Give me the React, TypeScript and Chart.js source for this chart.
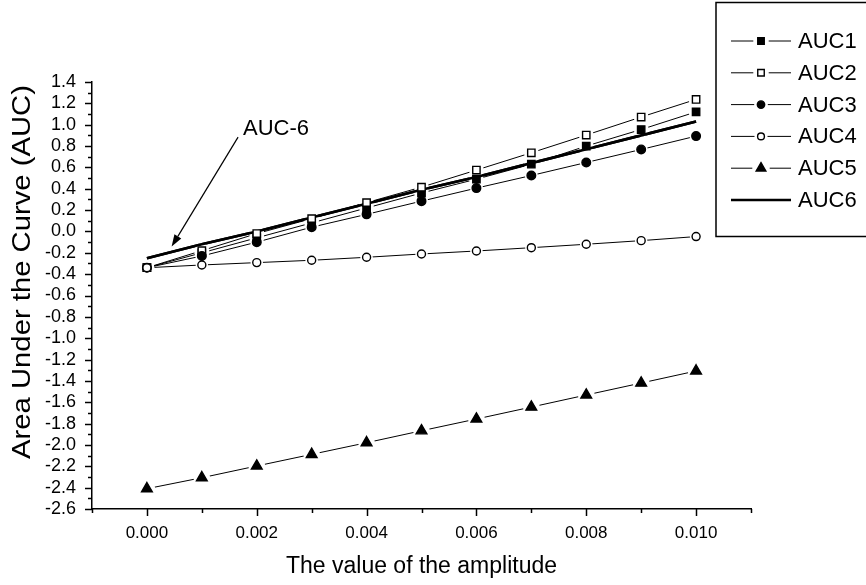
import React, { useEffect, useRef } from 'react';
import { Chart, registerables } from 'chart.js';
import { drawPoint } from 'chart.js/helpers';

Chart.register(...registerables);

const AMPLITUDE = [0.0, 0.001, 0.002, 0.003, 0.004, 0.005, 0.006, 0.007, 0.008, 0.009, 0.01];
const AUC1 = [-0.34, -0.2, -0.06, 0.08, 0.22, 0.36, 0.49, 0.63, 0.8, 0.955, 1.12];
const AUC2 = [-0.34, -0.18, -0.02, 0.12, 0.27, 0.415, 0.575, 0.737, 0.903, 1.072, 1.237];
const AUC3 = [-0.34, -0.23, -0.1, 0.04, 0.16, 0.284, 0.406, 0.524, 0.646, 0.768, 0.893];
const AUC4 = [-0.34, -0.314, -0.292, -0.27, -0.242, -0.211, -0.183, -0.152, -0.12, -0.086, -0.048];
const AUC5 = [-2.41, -2.307, -2.197, -2.088, -1.979, -1.867, -1.757, -1.645, -1.532, -1.42, -1.307];
const AUC6 = [-0.25, -0.12, 0.0, 0.13, 0.26, 0.39, 0.51, 0.64, 0.77, 0.9, 1.03];

const SERIES_NAMES = ['AUC1', 'AUC2', 'AUC3', 'AUC4', 'AUC5', 'AUC6'];
const SERIES_VALUES = [AUC1, AUC2, AUC3, AUC4, AUC5, AUC6];

const X_MIN = -0.001;
const X_MAX = 0.011;
const X_STEP = 0.001;
const Y_MIN = -2.6;
const Y_MAX = 1.4;
const Y_STEP = 0.1;

const X_TITLE = 'The value of the amplitude';
const Y_TITLE = 'Area Under the Curve (AUC)';

const ANNOTATION_TEXT = 'AUC-6';
const ANNOTATION_TEXT_AT = { x: 0.00175, y: 0.96 };
const ARROW_FROM = { x: 0.00166, y: 0.884 };
const ARROW_TO = { x: 0.00045, y: -0.142 };

const FONT = '"Liberation Sans", Arial, sans-serif';

type Style = { pointStyle: any; radius: number; fill: string; width: number; marker: boolean };
const STYLES: Style[] = [
  { pointStyle: 'rect', radius: 5.2, fill: '#000', width: 1, marker: true },
  { pointStyle: 'rect', radius: 5.2, fill: '#fff', width: 1, marker: true },
  { pointStyle: 'circle', radius: 4.3, fill: '#000', width: 1, marker: true },
  { pointStyle: 'circle', radius: 4.0, fill: '#fff', width: 1, marker: true },
  { pointStyle: 'triangle', radius: 6.2, fill: '#000', width: 1, marker: true },
  { pointStyle: false, radius: 0, fill: '#000', width: 2.6, marker: false },
];

const axisTicksPlugin = {
  id: 'axisTicks',
  afterDraw(chart: any) {
    const ctx = chart.ctx;
    const xs = chart.scales.x;
    const ys = chart.scales.y;
    const area = chart.chartArea;
    ctx.save();
    ctx.strokeStyle = '#000';
    ctx.lineWidth = 1.5;
    ys.ticks.forEach((t: any) => {
      const k = Math.round(t.value * 10);
      const len = k % 2 === 0 ? 7 : 4;
      const py = Math.round(ys.getPixelForValue(t.value)) + 0.5;
      ctx.beginPath();
      ctx.moveTo(area.left, py);
      ctx.lineTo(area.left - len, py);
      ctx.stroke();
    });
    xs.ticks.forEach((t: any) => {
      const k = Math.round(t.value * 1000);
      const len = k % 2 === 0 ? 7 : 4;
      const px = Math.round(xs.getPixelForValue(t.value)) + 0.5;
      ctx.beginPath();
      ctx.moveTo(px, area.bottom);
      ctx.lineTo(px, area.bottom + len);
      ctx.stroke();
    });
    // y axis title (stretched along its length like the original)
    ctx.save();
    ctx.translate(23, 272);
    ctx.rotate(-Math.PI / 2);
    ctx.scale(1.17, 1);
    ctx.font = `25px ${FONT}`;
    ctx.fillStyle = '#000';
    ctx.textAlign = 'center';
    ctx.textBaseline = 'middle';
    ctx.fillText(Y_TITLE, 0, 0);
    ctx.restore();
    ctx.restore();
  },
};

const haloPlugin = {
  id: 'halo',
  afterDatasetsDraw(chart: any) {
    const ctx = chart.ctx;
    const area = chart.chartArea;
    ctx.save();
    ctx.beginPath();
    ctx.rect(area.left, area.top - 10, area.right - area.left + 10, area.bottom - area.top + 10);
    ctx.clip();
    chart.data.datasets.forEach((ds: any, i: number) => {
      if (!STYLES[i].marker) return;
      const meta = chart.getDatasetMeta(i);
      meta.data.forEach((pt: any) => {
        ctx.beginPath();
        ctx.arc(pt.x, pt.y, STYLES[i].radius + 2.2, 0, Math.PI * 2);
        ctx.fillStyle = '#fff';
        ctx.fill();
      });
    });
    chart.data.datasets.forEach((ds: any, i: number) => {
      if (STYLES[i].marker) return;
      const meta = chart.getDatasetMeta(i);
      meta.dataset.draw(ctx, area);
    });
    chart.data.datasets.forEach((ds: any, i: number) => {
      if (!STYLES[i].marker) return;
      const meta = chart.getDatasetMeta(i);
      meta.data.forEach((pt: any) => pt.draw(ctx, area));
    });
    ctx.restore();
  },
};

const legendAndAnnotationPlugin = {
  id: 'legendAnnot',
  afterDraw(chart: any) {
    const ctx = chart.ctx;
    const xs = chart.scales.x;
    const ys = chart.scales.y;
    ctx.save();
    ctx.strokeStyle = '#000';
    ctx.lineWidth = 1.5;
    ctx.strokeRect(716, 2.5, 200, 234);
    const x0 = 731;
    const x1 = 791;
    const xm = (x0 + x1) / 2;
    chart.data.datasets.forEach((ds: any, i: number) => {
      const y = 41 + i * 31.8;
      const st = STYLES[i];
      ctx.strokeStyle = '#000';
      ctx.lineWidth = st.width;
      ctx.beginPath();
      if (st.marker) {
        const g = st.radius + 2.5;
        ctx.moveTo(x0, y);
        ctx.lineTo(xm - g, y);
        ctx.moveTo(xm + g, y);
        ctx.lineTo(x1, y);
      } else {
        ctx.moveTo(x0, y);
        ctx.lineTo(x1, y);
      }
      ctx.stroke();
      if (st.marker) {
        ctx.fillStyle = st.fill;
        ctx.strokeStyle = '#000';
        ctx.lineWidth = 1.4;
        drawPoint(ctx, { pointStyle: st.pointStyle, rotation: 0, borderWidth: 1.4, radius: st.radius - 0.6 } as any, xm, y);
      }
      ctx.fillStyle = '#000';
      ctx.font = `22px ${FONT}`;
      ctx.textAlign = 'left';
      ctx.textBaseline = 'middle';
      ctx.fillText(ds.label, 798, y + 1);
    });
    ctx.font = `22px ${FONT}`;
    ctx.fillStyle = '#000';
    ctx.textAlign = 'left';
    ctx.textBaseline = 'middle';
    ctx.fillText(ANNOTATION_TEXT, xs.getPixelForValue(ANNOTATION_TEXT_AT.x), ys.getPixelForValue(ANNOTATION_TEXT_AT.y));
    const ax0 = xs.getPixelForValue(ARROW_FROM.x);
    const ay0 = ys.getPixelForValue(ARROW_FROM.y);
    const ax1 = xs.getPixelForValue(ARROW_TO.x);
    const ay1 = ys.getPixelForValue(ARROW_TO.y);
    const ang = Math.atan2(ay1 - ay0, ax1 - ax0);
    const hl = 12;
    const hw = 4;
    const bx = ax1 - hl * Math.cos(ang);
    const by = ay1 - hl * Math.sin(ang);
    ctx.strokeStyle = '#000';
    ctx.lineWidth = 1.2;
    ctx.beginPath();
    ctx.moveTo(ax0, ay0);
    ctx.lineTo(bx, by);
    ctx.stroke();
    ctx.beginPath();
    ctx.moveTo(ax1, ay1);
    ctx.lineTo(bx + hw * Math.sin(ang), by - hw * Math.cos(ang));
    ctx.lineTo(bx - hw * Math.sin(ang), by + hw * Math.cos(ang));
    ctx.closePath();
    ctx.fill();
    ctx.restore();
  },
};

export default function App() {
  const ref = useRef<HTMLCanvasElement | null>(null);
  useEffect(() => {
    if (!ref.current) return;
    const datasets = SERIES_VALUES.map((vals, i) => {
      const st = STYLES[i];
      return {
        label: SERIES_NAMES[i],
        data: AMPLITUDE.map((x, j) => ({ x, y: vals[j] })),
        borderColor: '#000',
        borderWidth: st.width,
        backgroundColor: st.fill,
        pointStyle: st.pointStyle,
        pointRadius: st.radius,
        pointBackgroundColor: st.fill,
        pointBorderColor: '#000',
        pointBorderWidth: 1.4,
        tension: 0,
        fill: false,
      };
    });
    const chart = new Chart(ref.current, {
      type: 'line',
      data: { datasets } as any,
      plugins: [haloPlugin, axisTicksPlugin, legendAndAnnotationPlugin],
      options: {
        animation: false,
        responsive: false,
        maintainAspectRatio: false,
        layout: { padding: { left: 0, top: 82, right: 115, bottom: 0 } },
        plugins: { legend: { display: false }, tooltip: { enabled: false } },
        scales: {
          x: {
            type: 'linear',
            min: X_MIN,
            max: X_MAX,
            afterFit: (s: any) => { s.height = 76; },
            grid: { display: false, drawTicks: false },
            border: { display: true, color: '#000', width: 1.5 },
            ticks: {
              stepSize: X_STEP,
              autoSkip: false,
              maxRotation: 0,
              padding: 14,
              color: '#000',
              font: { family: FONT, size: 17 },
              callback: (v: any) => {
                const k = Math.round(Number(v) * 1000);
                return k % 2 === 0 && k >= 0 && k <= 10 ? (k / 1000).toFixed(3) : '';
              },
            },
            title: {
              display: true,
              text: X_TITLE,
              color: '#000',
              font: { family: FONT, size: 23 },
              padding: { top: 0, bottom: 5 },
            },
          },
          y: {
            type: 'linear',
            min: Y_MIN,
            max: Y_MAX,
            afterFit: (s: any) => { s.width = 92; },
            grid: { display: false, drawTicks: false },
            border: { display: true, color: '#000', width: 1.5 },
            ticks: {
              stepSize: Y_STEP,
              autoSkip: false,
              padding: 16,
              color: '#000',
              font: { family: FONT, size: 18 },
              callback: (v: any) => {
                const k = Math.round(Number(v) * 10);
                return k % 2 === 0 ? (k / 10).toFixed(1) : '';
              },
            },
            title: { display: false, text: Y_TITLE },
          },
        },
      } as any,
    });
    return () => chart.destroy();
  }, []);
  return (
    <div style={{ position: 'fixed', left: 0, top: 0, width: 866, height: 585, background: '#fff' }}>
      <canvas ref={ref} width={866} height={585} style={{ width: 866, height: 585, display: 'block' }} />
    </div>
  );
}
